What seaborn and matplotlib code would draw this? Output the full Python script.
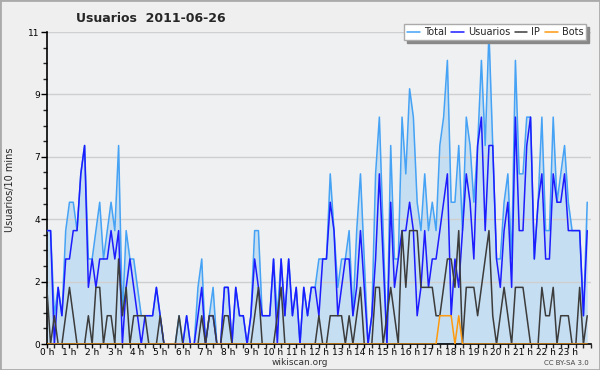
import numpy as np
import pandas as pd
import seaborn as sns
import matplotlib.pyplot as plt
from matplotlib.patches import Rectangle
from matplotlib.ticker import FixedLocator, MultipleLocator

sns.set_style("ticks")
plt.rcParams['font.family'] = ['DejaVu Sans']

# editors per 10 minutes, 144 slots from 0 h to 23 h 50
total = [4, 4, 1, 2, 1, 4, 5, 5, 4, 6, 7, 3, 3, 4, 5, 3, 4, 5, 4, 7,
         1, 4, 3, 3, 2, 1, 1, 1, 1, 2, 1, 0, 0, 0, 0, 1, 0, 1, 0, 0,
         2, 3, 0, 1, 2, 0, 0, 2, 2, 0, 2, 1, 1, 0, 1, 4, 4, 1, 1, 1,
         3, 1, 3, 1, 3, 1, 2, 0, 2, 1, 2, 2, 3, 3, 3, 6, 4, 2, 3, 3,
         4, 1, 4, 6, 3, 0, 1, 6, 8, 4, 0, 7, 3, 3, 8, 6, 9, 8, 5, 4,
         6, 4, 5, 4, 7, 8, 10, 5, 5, 7, 4, 8, 7, 5, 7, 10, 7, 11, 7, 3,
         3, 5, 6, 3, 10, 6, 6, 8, 8, 3, 5, 8, 4, 4, 8, 5, 6, 7, 5, 4,
         4, 4, 1, 5]
usuarios = [4, 4, 0, 2, 1, 3, 3, 4, 4, 6, 7, 2, 3, 2, 3, 3, 3, 4, 3, 4,
            0, 2, 3, 2, 1, 0, 1, 1, 1, 2, 1, 0, 0, 0, 0, 0, 0, 1, 0, 0,
            1, 2, 0, 1, 1, 0, 0, 2, 2, 0, 2, 1, 1, 0, 1, 3, 2, 1, 1, 1,
            3, 0, 3, 1, 3, 1, 2, 0, 2, 1, 2, 2, 1, 3, 3, 5, 4, 1, 2, 3,
            3, 1, 2, 4, 2, 0, 1, 3, 6, 3, 0, 5, 2, 3, 4, 4, 5, 4, 1, 2,
            4, 2, 3, 3, 4, 5, 6, 1, 3, 2, 4, 6, 5, 3, 7, 8, 4, 7, 7, 3,
            2, 4, 5, 2, 8, 4, 4, 7, 8, 3, 5, 6, 3, 3, 6, 5, 5, 6, 4, 4,
            4, 4, 1, 4]
ip = [2, 0, 1, 0, 0, 1, 2, 1, 0, 0, 0, 1, 0, 2, 2, 0, 1, 1, 0, 3,
      1, 2, 0, 1, 1, 1, 1, 0, 0, 0, 1, 0, 0, 0, 0, 1, 0, 0, 0, 0,
      0, 1, 0, 1, 1, 0, 0, 1, 1, 0, 0, 0, 0, 0, 0, 1, 2, 0, 0, 0,
      0, 1, 2, 0, 0, 0, 0, 0, 0, 0, 0, 0, 1, 0, 0, 1, 1, 1, 1, 0,
      1, 0, 1, 2, 0, 0, 0, 2, 2, 0, 1, 2, 1, 0, 4, 2, 4, 4, 4, 2,
      2, 2, 2, 1, 1, 2, 3, 3, 2, 4, 0, 2, 2, 2, 1, 2, 3, 4, 1, 0,
      1, 2, 1, 0, 2, 2, 2, 1, 0, 0, 0, 2, 1, 1, 2, 0, 1, 1, 1, 0,
      0, 2, 0, 1]
bots = [0] * 104 + [1, 1, 1, 1, 0, 1] + [0] * 34

series = ["Total", "Usuarios", "IP", "Bots"]
colors = ["#45a2f5", "#1c1cff", "#3c3c3c", "#ff9a10"]
hour_labels = [f"{h} h" for h in range(24)]
y_ticks = [0, 2.2, 4.4, 6.6, 8.8, 11]
y_labels = ["0", "2", "4", "7", "9", "11"]

df = pd.DataFrame({"hora": np.arange(len(total)) / 6, "Total": total,
                   "Usuarios": usuarios, "IP": ip, "Bots": bots})
long_df = df.melt(id_vars="hora", var_name="serie", value_name="n")

fig = plt.figure(figsize=(6, 3.7), dpi=100, facecolor="#efefef")
ax = fig.add_axes([0.078, 0.070, 0.907, 0.8435])
ax.set_facecolor("#eef0f2")
ax.set_axisbelow("line")

ax.fill_between(df["hora"], df["Total"], color="#c6def1", lw=0, zorder=1)
sns.lineplot(data=long_df, x="hora", y="n", hue="serie", hue_order=series,
             palette=colors, linewidth=1.1, legend=False, ax=ax, zorder=3)

ax.set_xlim(0, 24)
ax.set_ylim(0, 11)
ax.xaxis.set_major_locator(FixedLocator(range(24)))
ax.set_xticklabels(hour_labels)
ax.xaxis.set_minor_locator(MultipleLocator(1 / 3))
ax.yaxis.set_major_locator(FixedLocator(y_ticks))
ax.set_yticklabels(y_labels)
ax.yaxis.set_minor_locator(MultipleLocator(0.55))
ax.tick_params(which="major", length=4, width=1, labelsize=6.5, pad=1, colors="black")
ax.tick_params(axis="x", which="major", length=3, pad=0)
ax.tick_params(which="minor", length=3, width=1)
ax.yaxis.grid(True, which="major", color="#cfcfcf", lw=1)
ax.xaxis.grid(False)
sns.despine(ax=ax)
for s in ["left", "bottom"]:
    ax.spines[s].set_linewidth(1.2)
    ax.spines[s].set_color("black")
ax.set_xlabel("")
ax.set_ylabel("")

leg = ax.legend(handles=ax.get_lines()[:4], labels=series, ncol=4,
                loc="upper right", bbox_to_anchor=(0.985, 0.947),
                bbox_transform=fig.transFigure, fontsize=7, handlelength=1.3,
                handletextpad=0.4, columnspacing=0.5, borderpad=0.3,
                fancybox=False, shadow={"color": "#888888", "alpha": 1},
                framealpha=1, edgecolor="#aaaaaa")
leg.set_zorder(10)

fig.text(0.252, 0.950, "Usuarios  2011-06-26", fontsize=9, weight="bold",
         ha="center", va="center")
fig.text(0.017, 0.486, "Usuarios/10 mins", fontsize=7, rotation=90,
         ha="center", va="center")
fig.text(0.5, 0.021, "wikiscan.org", fontsize=6.5, ha="center", va="center",
         color="#333333")
fig.text(0.982, 0.018, "CC BY-SA 3.0", fontsize=5, ha="right", va="center",
         color="#444444")
fig.patches.append(Rectangle((0, 0), 1, 1, transform=fig.transFigure,
                             fill=False, edgecolor="#aaaaaa", lw=2))

fig.savefig("out.png", dpi=100, facecolor=fig.get_facecolor())
